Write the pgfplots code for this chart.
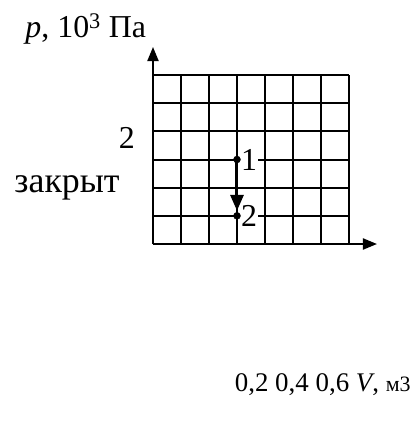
\documentclass[border=0pt]{standalone}
\usepackage{fontspec}
\setmainfont{Liberation Serif}
\usepackage{pgfplots}
\pgfplotsset{compat=1.18}
\usetikzlibrary{arrows.meta}

\tikzset{big/.style={font=\fontsize{32}{38}\selectfont}}

\begin{document}
\begin{tikzpicture}
\useasboundingbox (-153bp,-179bp) rectangle (267bp,244bp);
\begin{axis}[
    scale only axis, width=196bp, height=169bp,
    xmin=0, xmax=7, ymin=0, ymax=6,
    axis lines=left,
    axis line style={line width=2bp, -{Triangle[length=14bp,width=11bp]}, shorten >=-28bp},
    xtick={0,...,7}, ytick={0,...,6},
    xticklabels={}, yticklabels={},
    major tick length=0pt,
    grid=major, grid style={black, line width=2bp},
    clip=false,
]
% isochoric step 1 -> 2
\addplot[black, line width=3bp, -{Triangle[length=16bp,width=13bp]}, shorten >=5bp]
    coordinates {(3,3) (3,1)};
\addplot[only marks, mark=*, mark size=3.5bp, black] coordinates {(3,3) (3,1)};

\node[big, anchor=west, fill=white, inner sep=1bp, xshift=3bp] at (axis cs:3,3) {1};
\node[big, anchor=west, fill=white, inner sep=1bp, xshift=3bp] at (axis cs:3,1) {2};

\node[big, anchor=west] at (axis cs:-4.68,7.65) {\textit{p}, 10\textsuperscript{3} Па};
\node[big] at (axis cs:-0.93,3.76) {2};
\node[font=\fontsize{36}{42}\selectfont] at (axis cs:-3.07,1.99) {закрыт};
\node[font=\fontsize{27}{32}\selectfont, anchor=west] at (axis cs:2.8,-5.0) {0,2 0,4 0,6 \textit{V}, {\fontsize{22}{26}\selectfont м3}};
\end{axis}
\end{tikzpicture}
\end{document}
